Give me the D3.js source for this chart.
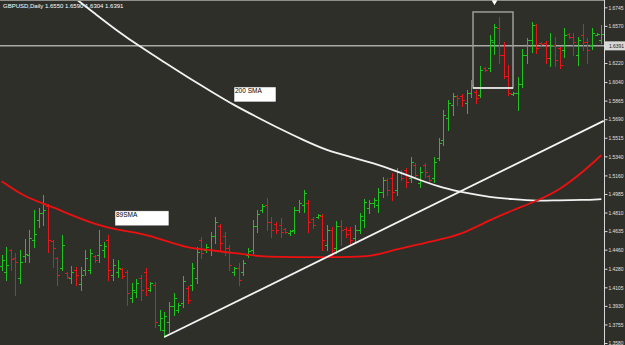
<!DOCTYPE html>
<html>
<head>
<meta charset="utf-8">
<script src="https://cdn.jsdelivr.net/npm/d3@7"></script>
<style>
    html, body { margin: 0; padding: 0; background: #2f2f2a; overflow: hidden; }
    svg { display: block; }
</style>
</head>
<body>
<svg id="chart" width="625" height="345"></svg>
<script>
const symbolTitle = "GBPUSD,Daily";
const lastQuote = [1.6550, 1.6590, 1.6304, 1.6391];
const bidPrice = 1.6391;

const priceTicks = [1.6745, 1.6570, 1.6220, 1.6040, 1.5865, 1.5690, 1.5515, 1.5340, 1.5160,
    1.4985, 1.4810, 1.4635, 1.4460, 1.4280, 1.4105, 1.3930, 1.3755, 1.3580];

const opens = [
    1.4305, 1.4249, 1.4456, 1.4381, 1.4192, 1.4399, 1.4409, 1.4550, 1.4739, 1.4805,
    1.4870, 1.4541, 1.4381, 1.4287, 1.4239, 1.4192, 1.4268, 1.4136, 1.4268, 1.4268,
    1.4399, 1.4409, 1.4456, 1.4550, 1.4221, 1.4249, 1.4277, 1.4249, 1.4004, 1.4060,
    1.4192, 1.4249, 1.4079, 1.4126, 1.3750, 1.3702, 1.3778, 1.3928, 1.3891, 1.3957,
    1.4098, 1.4126, 1.4192, 1.4550, 1.4456, 1.4456, 1.4588, 1.4682, 1.4588, 1.4475,
    1.4249, 1.4287, 1.4249, 1.4409, 1.4456, 1.4682, 1.4833, 1.4880, 1.4720, 1.4701,
    1.4692, 1.4654, 1.4616, 1.4644, 1.4833, 1.4880, 1.4899, 1.4748, 1.4767, 1.4776,
    1.4503, 1.4644, 1.4475, 1.4682, 1.4654, 1.4644, 1.4569, 1.4644, 1.4739, 1.4852,
    1.4899, 1.4880, 1.5002, 1.5115, 1.5134, 1.5021, 1.5191, 1.5210, 1.5134, 1.5257,
    1.5087, 1.5257, 1.5153, 1.5134, 1.5323, 1.5492, 1.5699, 1.5822, 1.5907, 1.5907,
    1.5841, 1.5935, 1.5944, 1.5916, 1.6170, 1.6170, 1.6415, 1.6547, 1.6293, 1.6095,
    1.5926, 1.5935, 1.6020, 1.6293, 1.6434, 1.6576, 1.6406, 1.6406, 1.6265, 1.6387,
    1.6359, 1.6340, 1.6491, 1.6462, 1.6293, 1.6481, 1.6415, 1.6387, 1.6481, 1.6434
];
const highs = [
    1.4409, 1.4484, 1.4465, 1.4428, 1.4456, 1.4560, 1.4644, 1.4833, 1.4852, 1.4974,
    1.4889, 1.4550, 1.4390, 1.4597, 1.4249, 1.4305, 1.4296, 1.4296, 1.4456, 1.4465,
    1.4409, 1.4644, 1.4531, 1.4597, 1.4371, 1.4362, 1.4287, 1.4268, 1.4145, 1.4183,
    1.4221, 1.4287, 1.4155, 1.4155, 1.3891, 1.3872, 1.3966, 1.4051, 1.3957, 1.4211,
    1.4117, 1.4334, 1.4484, 1.4578, 1.4513, 1.4626, 1.4767, 1.4701, 1.4626, 1.4503,
    1.4296, 1.4334, 1.4362, 1.4475, 1.4739, 1.4833, 1.4889, 1.4946, 1.4767, 1.4720,
    1.4757, 1.4663, 1.4644, 1.4861, 1.4927, 1.5021, 1.4927, 1.4767, 1.4795, 1.4795,
    1.4692, 1.4673, 1.4729, 1.4739, 1.4673, 1.4673, 1.4692, 1.4805, 1.4936, 1.4927,
    1.4946, 1.5040, 1.5144, 1.5134, 1.5181, 1.5228, 1.5210, 1.5228, 1.5332, 1.5276,
    1.5238, 1.5276, 1.5163, 1.5332, 1.5511, 1.5775, 1.5869, 1.5935, 1.5916, 1.5926,
    1.5963, 1.6057, 1.5963, 1.6189, 1.6180, 1.6481, 1.6585, 1.6651, 1.6415, 1.6199,
    1.5944, 1.6086, 1.6349, 1.6453, 1.6604, 1.6585, 1.6415, 1.6425, 1.6500, 1.6462,
    1.6368, 1.6547, 1.6500, 1.6500, 1.6462, 1.6585, 1.6453, 1.6547, 1.6500, 1.6576
];
const lows = [
    1.4268, 1.4173, 1.4268, 1.4032, 1.4145, 1.4343, 1.4343, 1.4484, 1.4673, 1.4692,
    1.4437, 1.4296, 1.4126, 1.4268, 1.4192, 1.4145, 1.4126, 1.4079, 1.4221, 1.4239,
    1.4343, 1.4343, 1.4390, 1.4173, 1.4173, 1.4202, 1.4192, 1.3938, 1.3966, 1.4013,
    1.3985, 1.4032, 1.4070, 1.3731, 1.3702, 1.3636, 1.3684, 1.3844, 1.3872, 1.3919,
    1.3957, 1.4079, 1.4145, 1.4381, 1.4437, 1.4409, 1.4522, 1.4456, 1.4409, 1.4268,
    1.4221, 1.4126, 1.4221, 1.4390, 1.4428, 1.4626, 1.4814, 1.4644, 1.4578, 1.4616,
    1.4578, 1.4616, 1.4597, 1.4616, 1.4814, 1.4814, 1.4626, 1.4663, 1.4757, 1.4456,
    1.4456, 1.4390, 1.4428, 1.4503, 1.4578, 1.4503, 1.4522, 1.4616, 1.4673, 1.4805,
    1.4861, 1.4814, 1.4955, 1.4974, 1.4927, 1.4974, 1.5115, 1.5050, 1.5097, 1.5134,
    1.5050, 1.5144, 1.5097, 1.5097, 1.5304, 1.5445, 1.5586, 1.5728, 1.5822, 1.5812,
    1.5747, 1.5897, 1.5841, 1.5897, 1.6142, 1.6142, 1.6302, 1.6218, 1.6076, 1.5916,
    1.5916, 1.5775, 1.5991, 1.6218, 1.6321, 1.6312, 1.6387, 1.6218, 1.6189, 1.6189,
    1.6170, 1.6274, 1.6453, 1.6293, 1.6199, 1.6340, 1.6218, 1.6349, 1.6481, 1.6406
];
const closes = [
    1.4362, 1.4315, 1.4371, 1.4343, 1.4343, 1.4418, 1.4569, 1.4607, 1.4805, 1.4833,
    1.4550, 1.4475, 1.4221, 1.4503, 1.4202, 1.4249, 1.4221, 1.4221, 1.4381, 1.4428,
    1.4362, 1.4503, 1.4494, 1.4268, 1.4315, 1.4287, 1.4211, 1.4051, 1.4079, 1.4145,
    1.4079, 1.4098, 1.4145, 1.3778, 1.3815, 1.3834, 1.3928, 1.4004, 1.3938, 1.4164,
    1.3985, 1.4287, 1.4437, 1.4428, 1.4484, 1.4588, 1.4720, 1.4522, 1.4475, 1.4315,
    1.4287, 1.4173, 1.4334, 1.4447, 1.4682, 1.4795, 1.4870, 1.4720, 1.4644, 1.4644,
    1.4626, 1.4626, 1.4635, 1.4833, 1.4899, 1.4993, 1.4720, 1.4692, 1.4786, 1.4550,
    1.4644, 1.4456, 1.4682, 1.4644, 1.4607, 1.4550, 1.4644, 1.4776, 1.4908, 1.4899,
    1.4927, 1.5002, 1.5115, 1.5021, 1.5002, 1.5191, 1.5134, 1.5097, 1.5285, 1.5163,
    1.5191, 1.5191, 1.5115, 1.5285, 1.5464, 1.5728, 1.5841, 1.5907, 1.5888, 1.5869,
    1.5935, 1.6010, 1.5888, 1.6152, 1.6152, 1.6434, 1.6557, 1.6293, 1.6095, 1.5935,
    1.5935, 1.6020, 1.6293, 1.6434, 1.6576, 1.6359, 1.6396, 1.6265, 1.6387, 1.6246,
    1.6199, 1.6481, 1.6462, 1.6415, 1.6434, 1.6415, 1.6340, 1.6500, 1.6491, 1.6491
];

// moving averages, sampled every 5 bars
const sma200Idx = [10, 15, 20, 25, 30, 35, 40, 45, 50, 55, 60, 65, 70, 75, 80, 85, 90, 95, 100, 105, 110, 115, 120, 125, 129];
const sma200Val = [1.7028, 1.6858, 1.6689, 1.6519, 1.6368, 1.6227, 1.6086, 1.5954, 1.5822, 1.5709, 1.5596, 1.5492,
    1.5395, 1.5336, 1.5276, 1.5200, 1.5115, 1.5040, 1.4993, 1.4955, 1.4936, 1.4918, 1.4927, 1.4927, 1.4936];
const sma89Idx = [0, 5, 10, 15, 20, 25, 30, 35, 40, 45, 50, 55, 60, 65, 70, 75, 80, 85, 90, 95, 100, 105, 110, 115, 120, 125, 129];
const sma89Val = [1.5106, 1.4955, 1.4880, 1.4786, 1.4701, 1.4644, 1.4616, 1.4550, 1.4475, 1.4456, 1.4428, 1.4399,
    1.4390, 1.4390, 1.4390, 1.4390, 1.4399, 1.4465, 1.4513, 1.4560, 1.4625, 1.4739, 1.4833, 1.4918, 1.5021, 1.5191, 1.5351];

const trendIdx = [35, 129.5];
const trendVal = [1.3636, 1.5674];
const boxIdx = [101.4, 110];
const boxVal = [1.6701, 1.5985];
const markerIdx = 106;

const noteText = ["200 SMA", "89SMA"];
const noteIdx = [50, 24.4];
const noteVal = [1.5994, 1.4826];

const width = 625;
const height = 345;
const plotRight = 604;

const upColor = "#1fc21f";
const downColor = "#e8151b";
const fontFamily = "Liberation Sans, Arial, sans-serif";

const svg = d3.select("#chart");

svg.append("rect")
    .attr("width", width)
    .attr("height", height)
    .attr("fill", "#2f2f2a");

svg.append("defs")
    .append("clipPath")
    .attr("id", "plotClip")
    .append("rect")
    .attr("x", 0)
    .attr("y", 0)
    .attr("width", plotRight)
    .attr("height", height);

const x = d3.scaleLinear()
    .domain([0, 129])
    .range([1.5, 601.35]);

const y = d3.scaleLinear()
    .domain([1.6745, 1.3580])
    .range([7.3, 343]);

const px = i => Math.round(x(i)) + 0.5;
const py = v => Math.round(y(v)) + 0.5;

const plot = svg.append("g").attr("clip-path", "url(#plotClip)");

// bid line
plot.append("line")
    .attr("x1", 0)
    .attr("x2", plotRight)
    .attr("y1", y(bidPrice) + 1)
    .attr("y2", y(bidPrice) + 1)
    .attr("stroke", "#a8a8a4")
    .attr("stroke-width", 1.5);

// OHLC bars
const bars = d3.range(opens.length).map(i => ({
    i: i, o: opens[i], h: highs[i], l: lows[i], c: closes[i]
}));
const barColor = d => d.c >= d.o ? upColor : downColor;

const barG = plot.append("g").attr("class", "bars");

barG.selectAll("line.hl")
    .data(bars)
    .join("line")
    .attr("class", "hl")
    .attr("x1", d => px(d.i))
    .attr("x2", d => px(d.i))
    .attr("y1", d => Math.round(y(d.h)))
    .attr("y2", d => Math.round(y(d.l)) + 1)
    .attr("stroke", barColor)
    .attr("stroke-width", 1);

barG.selectAll("line.open")
    .data(bars)
    .join("line")
    .attr("class", "open")
    .attr("x1", d => px(d.i) - 2.5)
    .attr("x2", d => px(d.i))
    .attr("y1", d => py(d.o))
    .attr("y2", d => py(d.o))
    .attr("stroke", barColor);

barG.selectAll("line.close")
    .data(bars)
    .join("line")
    .attr("class", "close")
    .attr("x1", d => px(d.i))
    .attr("x2", d => px(d.i) + 2.5)
    .attr("y1", d => py(d.c))
    .attr("y2", d => py(d.c))
    .attr("stroke", barColor);

// moving averages
const smaLine = d3.line()
    .x(d => x(d[0]))
    .y(d => y(d[1]))
    .curve(d3.curveBasis);

plot.append("path")
    .datum(sma200Idx.map((d, k) => [d, sma200Val[k]]))
    .attr("d", smaLine)
    .attr("fill", "none")
    .attr("stroke", "#f2f2f2")
    .attr("stroke-width", 1.8);

plot.append("path")
    .datum(sma89Idx.map((d, k) => [d, sma89Val[k]]))
    .attr("d", smaLine)
    .attr("fill", "none")
    .attr("stroke", "#ec1010")
    .attr("stroke-width", 1.8);

// trendline
plot.append("line")
    .attr("x1", x(trendIdx[0]))
    .attr("y1", y(trendVal[0]))
    .attr("x2", x(trendIdx[1]))
    .attr("y2", y(trendVal[1]))
    .attr("stroke", "#f4f4f4")
    .attr("stroke-width", 1.8);

// highlight box
plot.append("rect")
    .attr("x", x(boxIdx[0]))
    .attr("y", y(boxVal[0]))
    .attr("width", x(boxIdx[1]) - x(boxIdx[0]))
    .attr("height", y(boxVal[1]) - y(boxVal[0]))
    .attr("fill", "none")
    .attr("stroke", "#9c9c98")
    .attr("stroke-width", 1.5);

plot.append("line")
    .attr("x1", x(boxIdx[0]))
    .attr("x2", x(boxIdx[1]))
    .attr("y1", y(boxVal[1]))
    .attr("y2", y(boxVal[1]))
    .attr("stroke", "#f4f4f4")
    .attr("stroke-width", 1.5);

// text notes
noteText.forEach((t, k) => {
    const nx = x(noteIdx[k]);
    const ny = y(noteVal[k]);
    const w = k === 0 ? 42 : 54;
    plot.append("rect")
        .attr("x", nx)
        .attr("y", ny)
        .attr("width", w)
        .attr("height", 15)
        .attr("fill", "#ffffff")
        .attr("stroke", "#202020")
        .attr("stroke-width", 0.5);
    plot.append("text")
        .attr("x", nx + 1)
        .attr("y", ny + 6)
        .attr("font-family", fontFamily)
        .attr("font-size", 6.5)
        .attr("fill", "#000000")
        .text(t);
});

// frame top edge
svg.append("line")
    .attr("x1", 0)
    .attr("x2", plotRight)
    .attr("y1", 0.5)
    .attr("y2", 0.5)
    .attr("stroke", "#8e8e8a");

// marker at top
svg.append("path")
    .attr("d", d3.symbol().type(d3.symbolTriangle).size(14))
    .attr("transform", "translate(" + px(markerIdx) + ",2) rotate(180)")
    .attr("fill", "#ffffff");

// price axis
const yAxis = d3.axisRight(y)
    .tickValues(priceTicks)
    .tickFormat(d3.format(".4f"))
    .tickSize(3)
    .tickPadding(1);

const axisG = svg.append("g")
    .attr("transform", "translate(" + (plotRight + 0.5) + ",0)")
    .call(yAxis);

axisG.select(".domain")
    .attr("d", "M0,0V" + height)
    .attr("stroke", "#d8d8d8");

axisG.selectAll(".tick line")
    .attr("stroke", "#d8d8d8");

axisG.selectAll(".tick text")
    .attr("fill", "#e0e0e0")
    .attr("font-family", fontFamily)
    .attr("font-size", 5.5)
    .attr("textLength", 15)
    .attr("lengthAdjust", "spacingAndGlyphs");

// bid price label
const bidG = svg.append("g")
    .attr("transform", "translate(" + (plotRight + 1) + "," + (y(bidPrice) + 1) + ")");
bidG.append("rect")
    .attr("x", 0)
    .attr("y", -4.5)
    .attr("width", 20)
    .attr("height", 9)
    .attr("fill", "#d8d8d6");
bidG.append("text")
    .attr("x", 4)
    .attr("y", 2)
    .attr("font-family", fontFamily)
    .attr("font-size", 5.5)
    .attr("textLength", 15)
    .attr("lengthAdjust", "spacingAndGlyphs")
    .attr("fill", "#202020")
    .text(d3.format(".4f")(bidPrice));

// title
svg.append("text")
    .attr("x", 3)
    .attr("y", 8)
    .attr("font-family", fontFamily)
    .attr("font-size", 6)
    .attr("fill", "#ffffff")
    .text(symbolTitle + "  " + lastQuote.map(d3.format(".4f")).join(" "));
</script>
</body>
</html>
